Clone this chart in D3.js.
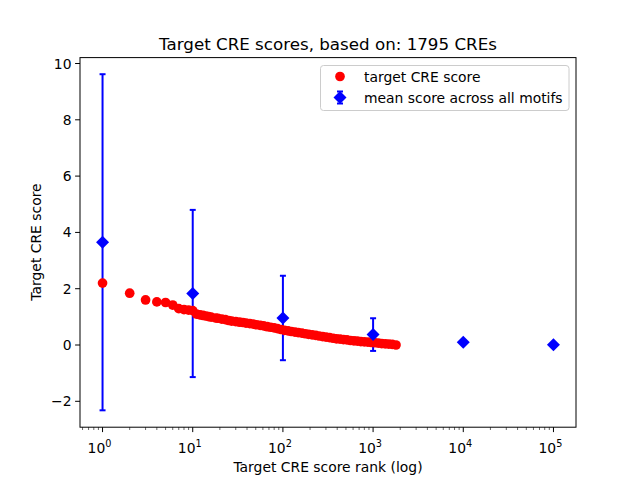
<!DOCTYPE html>
<html>
  <head>
    <script src="https://d3js.org/d3.v7.min.js"></script>
    <style>
      body { margin: 0; background: #fff; }
      svg { font-family: "DejaVu Sans", sans-serif; }
    </style>
  </head>
  <body>
    <svg width="640" height="480"></svg>
    <script>
      // target CRE scores, sampled along the ranked curve
      const ranks = [1, 2, 3, 4, 5, 6, 7, 8, 9, 10, 11, 12, 13, 14, 15, 16, 18, 19, 21, 23, 25, 27,
        30, 33, 36, 39, 43, 47, 51, 56, 61, 67, 73, 80, 87, 95, 104, 114, 124, 136, 148, 162,
        177, 193, 211, 231, 252, 276, 301, 329, 360, 393, 430, 470, 513, 561, 613, 670, 732,
        800, 875, 956, 1045, 1142, 1248, 1364, 1491, 1629, 1795];
      const scores = [2.20, 1.84, 1.60, 1.53, 1.51, 1.42, 1.29, 1.26, 1.24, 1.22, 1.10, 1.07,
        1.05, 1.03, 1.01, 0.99, 0.96, 0.95, 0.92, 0.90, 0.87, 0.85, 0.83, 0.81, 0.80, 0.78,
        0.76, 0.74, 0.72, 0.70, 0.68, 0.65, 0.63, 0.61, 0.58, 0.55, 0.52, 0.50, 0.48, 0.46,
        0.44, 0.42, 0.40, 0.38, 0.36, 0.34, 0.32, 0.30, 0.28, 0.26, 0.24, 0.22, 0.21, 0.19,
        0.18, 0.16, 0.15, 0.14, 0.12, 0.11, 0.10, 0.09, 0.08, 0.07, 0.05, 0.04, 0.03, 0.02, 0.00];

      // mean score across all motifs with std error bars
      const meanRanks = [1, 10, 100, 1000, 10000, 100000];
      const meanScores = [3.65, 1.83, 0.96, 0.37, 0.10, 0.01];
      const meanErr = [5.97, 2.97, 1.50, 0.58, 0.06, 0.02];

      const yTicks = [-2, 0, 2, 4, 6, 8, 10];
      const xTicks = [0, 1, 2, 3, 4, 5];

      const svg = d3.select("svg");
      const m = { left: 80, right: 576, top: 57.6, bottom: 427.2 };

      const x = d3.scaleLog().domain([Math.pow(10, -0.25), Math.pow(10, 5.25)]).range([m.left, m.right]);
      const y = d3.scaleLinear().domain([-2.92, 10.21]).range([m.bottom, m.top]);

      // error bars
      const eb = svg.append("g").attr("stroke", "#0000ff").attr("stroke-width", 2);
      meanRanks.forEach((r, i) => {
        const cx = x(r);
        const y0 = y(meanScores[i] - meanErr[i]), y1 = y(meanScores[i] + meanErr[i]);
        eb.append("line").attr("x1", cx).attr("x2", cx).attr("y1", y0).attr("y2", y1);
        eb.append("line").attr("x1", cx - 3).attr("x2", cx + 3).attr("y1", y0).attr("y2", y0);
        eb.append("line").attr("x1", cx - 3).attr("x2", cx + 3).attr("y1", y1).attr("y2", y1);
      });

      // red points
      svg.append("g").selectAll("circle")
        .data(ranks)
        .join("circle")
        .attr("cx", d => x(d))
        .attr("cy", (d, i) => y(scores[i]))
        .attr("r", 4.85)
        .attr("fill", "#ff0000");

      // blue diamonds
      const diamond = "M0,-6.5L6.5,0L0,6.5L-6.5,0Z";
      svg.append("g").selectAll("path")
        .data(meanRanks)
        .join("path")
        .attr("d", diamond)
        .attr("transform", (d, i) => `translate(${x(d)},${y(meanScores[i])})`)
        .attr("fill", "#0000ff");

      // axes frame
      svg.append("rect")
        .attr("x", m.left).attr("y", m.top)
        .attr("width", m.right - m.left).attr("height", m.bottom - m.top)
        .attr("fill", "none").attr("stroke", "#000").attr("stroke-width", 1);

      // y axis
      const yAxis = svg.append("g");
      yTicks.forEach(t => {
        yAxis.append("line").attr("x1", m.left - 4.9).attr("x2", m.left)
          .attr("y1", y(t)).attr("y2", y(t)).attr("stroke", "#000");
        yAxis.append("text").attr("x", m.left - 8.5).attr("y", y(t) + 5)
          .attr("text-anchor", "end").attr("font-size", 13.9)
          .text(t < 0 ? "\u2212" + Math.abs(t) : t);
      });

      // x axis (log), major and minor ticks
      const xAxis = svg.append("g");
      for (let e = -1; e <= 5; e++) {
        for (let k = 1; k <= 9; k++) {
          const v = k * Math.pow(10, e);
          if (v < x.domain()[0] || v > x.domain()[1]) continue;
          const len = k === 1 ? 4.9 : 2.8;
          xAxis.append("line").attr("x1", x(v)).attr("x2", x(v))
            .attr("y1", m.bottom).attr("y2", m.bottom + len)
            .attr("stroke", "#000").attr("stroke-width", k === 1 ? 1 : 0.6);
        }
      }
      xTicks.forEach(e => {
        const t = xAxis.append("text").attr("x", x(Math.pow(10, e)) - 3).attr("y", 453)
          .attr("text-anchor", "middle").attr("font-size", 13.9);
        t.append("tspan").text("10");
        t.append("tspan").attr("dy", -6).attr("font-size", 9.7).text(e);
      });

      // labels
      svg.append("text").attr("x", (m.left + m.right) / 2).attr("y", 50)
        .attr("text-anchor", "middle").attr("font-size", 16.7)
        .text("Target CRE scores, based on: 1795 CREs");
      svg.append("text").attr("x", (m.left + m.right) / 2).attr("y", 472)
        .attr("text-anchor", "middle").attr("font-size", 13.9)
        .text("Target CRE score rank (log)");
      svg.append("text").attr("transform", "translate(41,242) rotate(-90)")
        .attr("text-anchor", "middle").attr("font-size", 13.9)
        .text("Target CRE score");

      // legend
      const lg = svg.append("g");
      lg.append("rect").attr("x", 320.5).attr("y", 65.5).attr("width", 248.5).attr("height", 45)
        .attr("rx", 3).attr("fill", "#fff").attr("fill-opacity", 0.8)
        .attr("stroke", "#cccccc");
      lg.append("circle").attr("cx", 340).attr("cy", 76.5).attr("r", 4.85).attr("fill", "#ff0000");
      lg.append("text").attr("x", 364).attr("y", 81.5).attr("font-size", 13.9).text("target CRE score");
      lg.append("line").attr("x1", 340).attr("x2", 340).attr("y1", 91.5).attr("y2", 103.5)
        .attr("stroke", "#0000ff").attr("stroke-width", 2);
      lg.append("line").attr("x1", 337).attr("x2", 343).attr("y1", 91.5).attr("y2", 91.5)
        .attr("stroke", "#0000ff").attr("stroke-width", 2);
      lg.append("line").attr("x1", 337).attr("x2", 343).attr("y1", 103.5).attr("y2", 103.5)
        .attr("stroke", "#0000ff").attr("stroke-width", 2);
      lg.append("path").attr("d", diamond).attr("transform", "translate(340,97.5)").attr("fill", "#0000ff");
      lg.append("text").attr("x", 364).attr("y", 102.5).attr("font-size", 13.9).text("mean score across all motifs");
    </script>
  </body>
</html>
